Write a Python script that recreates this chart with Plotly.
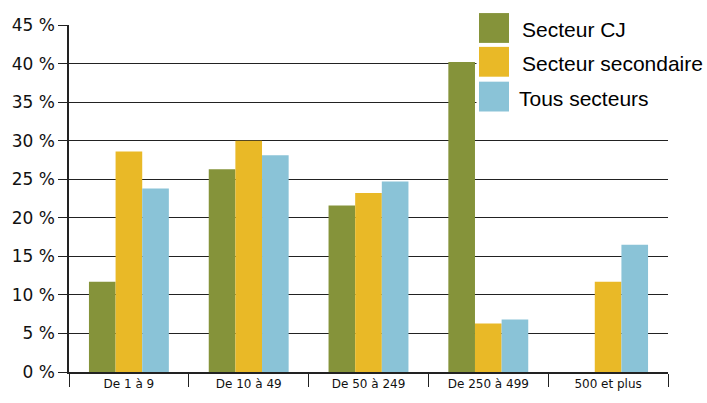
import plotly.graph_objects as go

categories = ["De 1 à 9", "De 10 à 49", "De 50 à 249", "De 250 à 499", "500 et plus"]
series_names = ["Secteur CJ", "Secteur secondaire", "Tous secteurs"]
secteur_cj = [11.7, 26.3, 21.6, 40.2, None]
secteur_secondaire = [28.6, 30.0, 23.2, 6.3, 11.7]
tous_secteurs = [23.8, 28.1, 24.7, 6.8, 16.5]
y_ticks = [0, 5, 10, 15, 20, 25, 30, 35, 40, 45]
y_tick_labels = [f"{v} %" for v in y_ticks]
colors = ["#85933A", "#E9B927", "#8AC3D7"]

W, H = 707, 403
L, R, T, B = 69, 39, 25, 29
pw, ph = W - L - R, H - T - B

def px(x):
    return (x - L) / pw

def py(y):
    return (H - B - y) / ph

fig = go.Figure()
for name, vals, col in zip(series_names, [secteur_cj, secteur_secondaire, tous_secteurs], colors):
    fig.add_trace(go.Bar(x=categories, y=vals, name=name, marker_color=col,
                         marker_line_width=0, showlegend=False))

# legend background (covers gridlines, no bars in this region) and items
shapes = [dict(type="rect", xref="paper", yref="paper", layer="above",
               x0=px(476.5), x1=px(672), y0=py(116), y1=py(8),
               fillcolor="white", line_width=0)]
annotations = []
leg_tops = [13, 47, 82]
text_x = [520, 520, 517]
for i, (name, col) in enumerate(zip(series_names, colors)):
    t = leg_tops[i]
    shapes.append(dict(type="rect", xref="paper", yref="paper", layer="above",
                       x0=px(479), x1=px(509), y0=py(t + 30), y1=py(t),
                       fillcolor=col, line_width=0))
    annotations.append(dict(xref="paper", yref="paper", x=px(text_x[i]), y=py(t + 17),
                            text=name, showarrow=False, xanchor="left", yanchor="middle",
                            font=dict(family="Liberation Sans, Arial, sans-serif", size=21, color="#000")))

fig.update_layout(
    width=W, height=H,
    margin=dict(l=L, r=R, t=T, b=B, pad=0),
    paper_bgcolor="white", plot_bgcolor="white",
    barmode="group", bargap=0.333, bargroupgap=0,
    shapes=shapes, annotations=annotations,
    showlegend=False,
)
fig.update_xaxes(
    type="category", tickson="boundaries", ticks="outside", ticklen=13,
    tickcolor="#222", tickwidth=1, showline=True, linecolor="#222", linewidth=1.5,
    showgrid=False, tickfont=dict(family="DejaVu Sans, sans-serif", size=12, color="#111"),
    range=[-0.5, 4.5],
)
fig.update_yaxes(
    range=[0, 45], tickvals=y_ticks, ticktext=y_tick_labels,
    ticks="outside", ticklen=9, tickcolor="#222", tickwidth=1,
    showline=True, linecolor="#222", linewidth=1.5,
    showgrid=True, gridcolor="#222", gridwidth=1, zeroline=False,
    tickfont=dict(family="DejaVu Sans, sans-serif", size=17, color="#111"),
)
fig.write_html("out.html", config={"displayModeBar": False},
               post_script="document.body.style.margin='0px';document.body.style.overflow='hidden';")
